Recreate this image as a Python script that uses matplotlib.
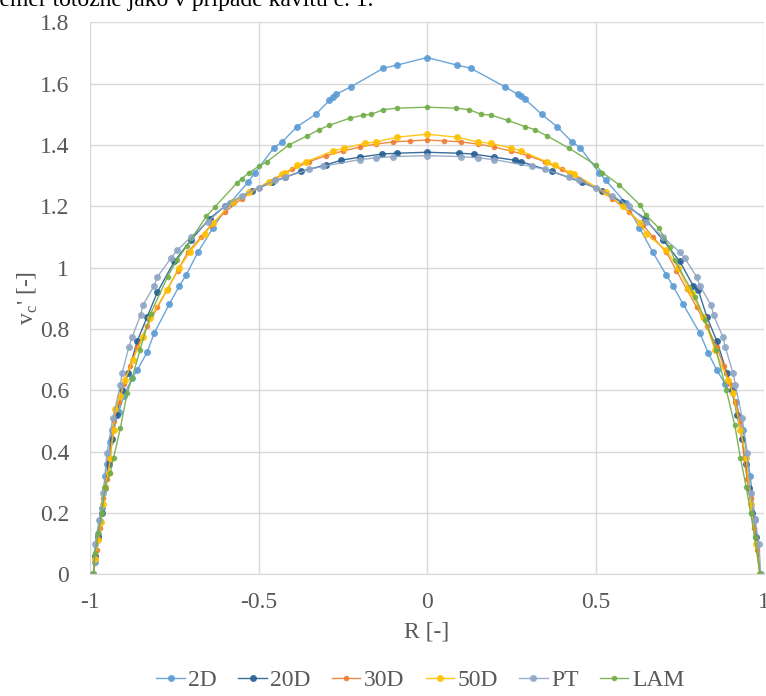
import matplotlib.pyplot as plt

plt.rcParams['font.family'] = ['Liberation Serif', 'DejaVu Serif']

# radial position R [-] and velocity v_c' [-] for each profile
r_2d = [-0.99, -0.985, -0.975, -0.97, -0.965, -0.955, -0.95, -0.94, -0.935, -0.915, -0.9, -0.875,
        -0.86, -0.83, -0.81, -0.765, -0.735, -0.715, -0.68, -0.635, -0.585, -0.53, -0.51, -0.455,
        -0.43, -0.385, -0.33, -0.29, -0.28, -0.27, -0.225, -0.13, -0.09, 0.0,
        0.09, 0.13, 0.23, 0.27, 0.28, 0.29, 0.34, 0.385, 0.43, 0.455, 0.51, 0.53, 0.59, 0.63,
        0.67, 0.71, 0.73, 0.76, 0.81, 0.835, 0.86, 0.885, 0.917, 0.938, 0.959, 0.973, 0.988]
v_2d = [0.0, 0.04, 0.13, 0.175, 0.215, 0.32, 0.36, 0.43, 0.47, 0.53, 0.58, 0.64,
        0.665, 0.725, 0.785, 0.88, 0.94, 0.975, 1.05, 1.13, 1.21, 1.28, 1.31, 1.39,
        1.41, 1.46, 1.50, 1.545, 1.555, 1.565, 1.59, 1.65, 1.66, 1.685,
        1.66, 1.65, 1.59, 1.565, 1.56, 1.55, 1.50, 1.46, 1.41, 1.39, 1.31, 1.285, 1.21, 1.13,
        1.05, 0.975, 0.94, 0.88, 0.785, 0.72, 0.665, 0.62, 0.56, 0.47, 0.32, 0.18, 0.0]

r_20d = [-0.99, -0.985, -0.975, -0.965, -0.955, -0.945, -0.935, -0.92, -0.905, -0.887, -0.86,
         -0.83, -0.8, -0.75, -0.7, -0.645, -0.6, -0.577, -0.52, -0.46, -0.42, -0.373, -0.3,
         -0.255, -0.2, -0.135, -0.09, 0.0,
         0.095, 0.14, 0.2, 0.26, 0.28, 0.37, 0.46, 0.52, 0.577, 0.647, 0.7, 0.75, 0.79, 0.805,
         0.83, 0.86, 0.89, 0.905, 0.92, 0.935, 0.945, 0.955, 0.965, 0.975, 0.988]
v_20d = [0.0, 0.06, 0.12, 0.2, 0.28, 0.36, 0.44, 0.52, 0.6, 0.655, 0.76,
         0.84, 0.92, 1.02, 1.09, 1.16, 1.2, 1.213, 1.25, 1.278, 1.295, 1.314, 1.335,
         1.35, 1.36, 1.37, 1.373, 1.376,
         1.373, 1.37, 1.36, 1.35, 1.345, 1.314, 1.278, 1.25, 1.213, 1.16, 1.09, 1.02, 0.94, 0.926,
         0.84, 0.76, 0.655, 0.6, 0.52, 0.44, 0.36, 0.28, 0.2, 0.12, 0.0]

r_30d = [-0.99, -0.98, -0.97, -0.96, -0.95, -0.94, -0.93, -0.915, -0.9, -0.88, -0.86, -0.83,
         -0.8, -0.77, -0.74, -0.71, -0.67, -0.64, -0.6, -0.55, -0.5, -0.45, -0.4, -0.35, -0.3,
         -0.25, -0.2, -0.15, -0.1, -0.05, 0.0,
         0.05, 0.1, 0.15, 0.2, 0.25, 0.3, 0.35, 0.4, 0.45, 0.5, 0.55, 0.6, 0.64, 0.67, 0.71,
         0.74, 0.77, 0.8, 0.83, 0.86, 0.88, 0.9, 0.915, 0.93, 0.94, 0.95, 0.96, 0.97, 0.98, 0.988]
v_30d = [0.0, 0.08, 0.15, 0.25, 0.31, 0.38, 0.5, 0.56, 0.62, 0.68, 0.74, 0.81,
         0.87, 0.93, 0.99, 1.05, 1.1, 1.14, 1.18, 1.225, 1.26, 1.29, 1.32, 1.345, 1.365,
         1.38, 1.393, 1.403, 1.41, 1.413, 1.416,
         1.413, 1.41, 1.403, 1.393, 1.38, 1.365, 1.345, 1.32, 1.29, 1.26, 1.225, 1.18, 1.14, 1.1, 1.05,
         0.99, 0.93, 0.87, 0.81, 0.74, 0.68, 0.62, 0.56, 0.5, 0.38, 0.31, 0.25, 0.15, 0.08, 0.0]

r_50d = [-0.99, -0.985, -0.975, -0.968, -0.96, -0.955, -0.945, -0.94, -0.93, -0.926, -0.91,
         -0.897, -0.873, -0.843, -0.822, -0.772, -0.735, -0.704, -0.66, -0.635, -0.577, -0.527,
         -0.47, -0.43, -0.42, -0.385, -0.36, -0.28, -0.245, -0.185, -0.15, -0.09, 0.0,
         0.09, 0.15, 0.19, 0.25, 0.28, 0.355, 0.38, 0.425, 0.435, 0.53, 0.58, 0.633, 0.65, 0.71,
         0.745, 0.775, 0.785, 0.82, 0.855, 0.893, 0.908, 0.93, 0.947, 0.96, 0.975, 0.988]
v_50d = [0.0, 0.05, 0.11, 0.17, 0.23, 0.284, 0.33, 0.378, 0.47, 0.54, 0.58,
         0.633, 0.70, 0.773, 0.835, 0.926, 1.0, 1.05, 1.11, 1.144, 1.213, 1.245,
         1.28, 1.305, 1.31, 1.333, 1.345, 1.38, 1.39, 1.405, 1.41, 1.425, 1.435,
         1.425, 1.41, 1.405, 1.39, 1.38, 1.345, 1.333, 1.31, 1.305, 1.245, 1.2, 1.144, 1.11, 1.056,
         1.0, 0.932, 0.916, 0.838, 0.73, 0.633, 0.59, 0.47, 0.378, 0.23, 0.1, 0.0]

r_pt = [-0.99, -0.985, -0.973, -0.96, -0.95, -0.932, -0.91, -0.905, -0.885, -0.875, -0.85,
        -0.843, -0.81, -0.8, -0.76, -0.742, -0.7, -0.65, -0.6, -0.55, -0.5, -0.45, -0.42,
        -0.35, -0.31, -0.2, -0.15, -0.1, 0.0,
        0.1, 0.15, 0.2, 0.31, 0.35, 0.42, 0.45, 0.5, 0.55, 0.6, 0.65, 0.7, 0.75, 0.765, 0.8,
        0.81, 0.843, 0.85, 0.878, 0.885, 0.908, 0.915, 0.935, 0.95, 0.96, 0.973, 0.985, 0.99]
v_pt = [0.0, 0.1, 0.176, 0.264, 0.395, 0.51, 0.616, 0.655, 0.74, 0.773, 0.845,
        0.877, 0.94, 0.97, 1.03, 1.056, 1.1, 1.15, 1.2, 1.235, 1.26, 1.285, 1.295,
        1.32, 1.33, 1.352, 1.358, 1.362, 1.365,
        1.362, 1.358, 1.352, 1.33, 1.32, 1.295, 1.285, 1.26, 1.235, 1.2, 1.15, 1.1, 1.05, 1.03, 0.97,
        0.94, 0.877, 0.845, 0.773, 0.74, 0.655, 0.616, 0.51, 0.395, 0.264, 0.176, 0.1, 0.0]

r_lam = [-0.99, -0.985, -0.975, -0.965, -0.955, -0.94, -0.93, -0.91, -0.89, -0.875, -0.852,
         -0.82, -0.77, -0.742, -0.713, -0.655, -0.63, -0.565, -0.55, -0.527, -0.5, -0.475,
         -0.41, -0.355, -0.32, -0.29, -0.23, -0.19, -0.165, -0.13, -0.09, 0.0,
         0.085, 0.125, 0.16, 0.19, 0.24, 0.29, 0.32, 0.355, 0.42, 0.5, 0.52, 0.57, 0.633, 0.65,
         0.687, 0.72, 0.735, 0.795, 0.825, 0.858, 0.888, 0.913, 0.93, 0.947, 0.96, 0.972, 0.988]
v_lam = [0.0, 0.07, 0.135, 0.2, 0.285, 0.33, 0.38, 0.476, 0.59, 0.64, 0.73,
         0.85, 0.97, 1.025, 1.07, 1.167, 1.197, 1.275, 1.29, 1.31, 1.33, 1.345,
         1.40, 1.43, 1.45, 1.464, 1.487, 1.497, 1.50, 1.515, 1.52, 1.523,
         1.52, 1.515, 1.50, 1.497, 1.48, 1.46, 1.45, 1.43, 1.39, 1.335, 1.31, 1.27, 1.203, 1.17,
         1.13, 1.066, 1.024, 0.905, 0.83, 0.73, 0.60, 0.486, 0.378, 0.284, 0.2, 0.12, 0.0]

labels = ["2D", "20D", "30D", "50D", "PT", "LAM"]
colors = ["#5B9BD5", "#255E91", "#ED7D31", "#FFC000", "#8EA5C4", "#70AD47"]
series = [(r_2d, v_2d), (r_20d, v_20d), (r_30d, v_30d), (r_50d, v_50d), (r_pt, v_pt), (r_lam, v_lam)]
msizes = [5, 5, 4, 5, 5, 4]

fig = plt.figure(figsize=(7.66, 6.96), dpi=100)
ax = fig.add_axes([0.1175, 0.175, 0.88, 0.793])

for (r, v), lab, c, ms in zip(series, labels, colors, msizes):
    ax.plot(r, v, color=c, lw=1.0, marker='o', ms=ms, mew=0, label=lab, alpha=0.9)

ax.set_xlim(-1, 1)
ax.set_ylim(0, 1.8)
ax.set_xticks([-1, -0.5, 0, 0.5, 1])
ax.set_xticklabels(["-1", "-0.5", "0", "0.5", "1"])
ax.set_yticks([0, 0.2, 0.4, 0.6, 0.8, 1.0, 1.2, 1.4, 1.6, 1.8])
ax.set_yticklabels(["0", "0.2", "0.4", "0.6", "0.8", "1", "1.2", "1.4", "1.6", "1.8"])
ax.grid(True, color="#D9D9D9", lw=1.0)
ax.set_axisbelow(True)
for s in ["top", "right", "left"]:
    ax.spines[s].set_visible(False)
ax.spines["bottom"].set_color("#D9D9D9")
ax.tick_params(length=0, labelsize=17, colors="#595959")
ax.tick_params(axis="y", pad=15)
ax.tick_params(axis="x", pad=13)

ax.set_xlabel("R [-]", fontsize=17, color="#595959", labelpad=6)
ax.set_ylabel("v$_\\mathregular{c}$' [-]", fontsize=17, color="#595959", labelpad=0)

ax.legend(loc="upper center", bbox_to_anchor=(0.49, -0.135), ncol=6, frameon=False,
          fontsize=17, labelcolor="#595959", handlelength=1.2, handletextpad=0.15, columnspacing=0.9)

fig.text(-0.009, 0.991, "téměř totožné jako v případě kavitu č. 1.", fontsize=17, va="baseline")

fig.savefig("out.png", dpi=100)
